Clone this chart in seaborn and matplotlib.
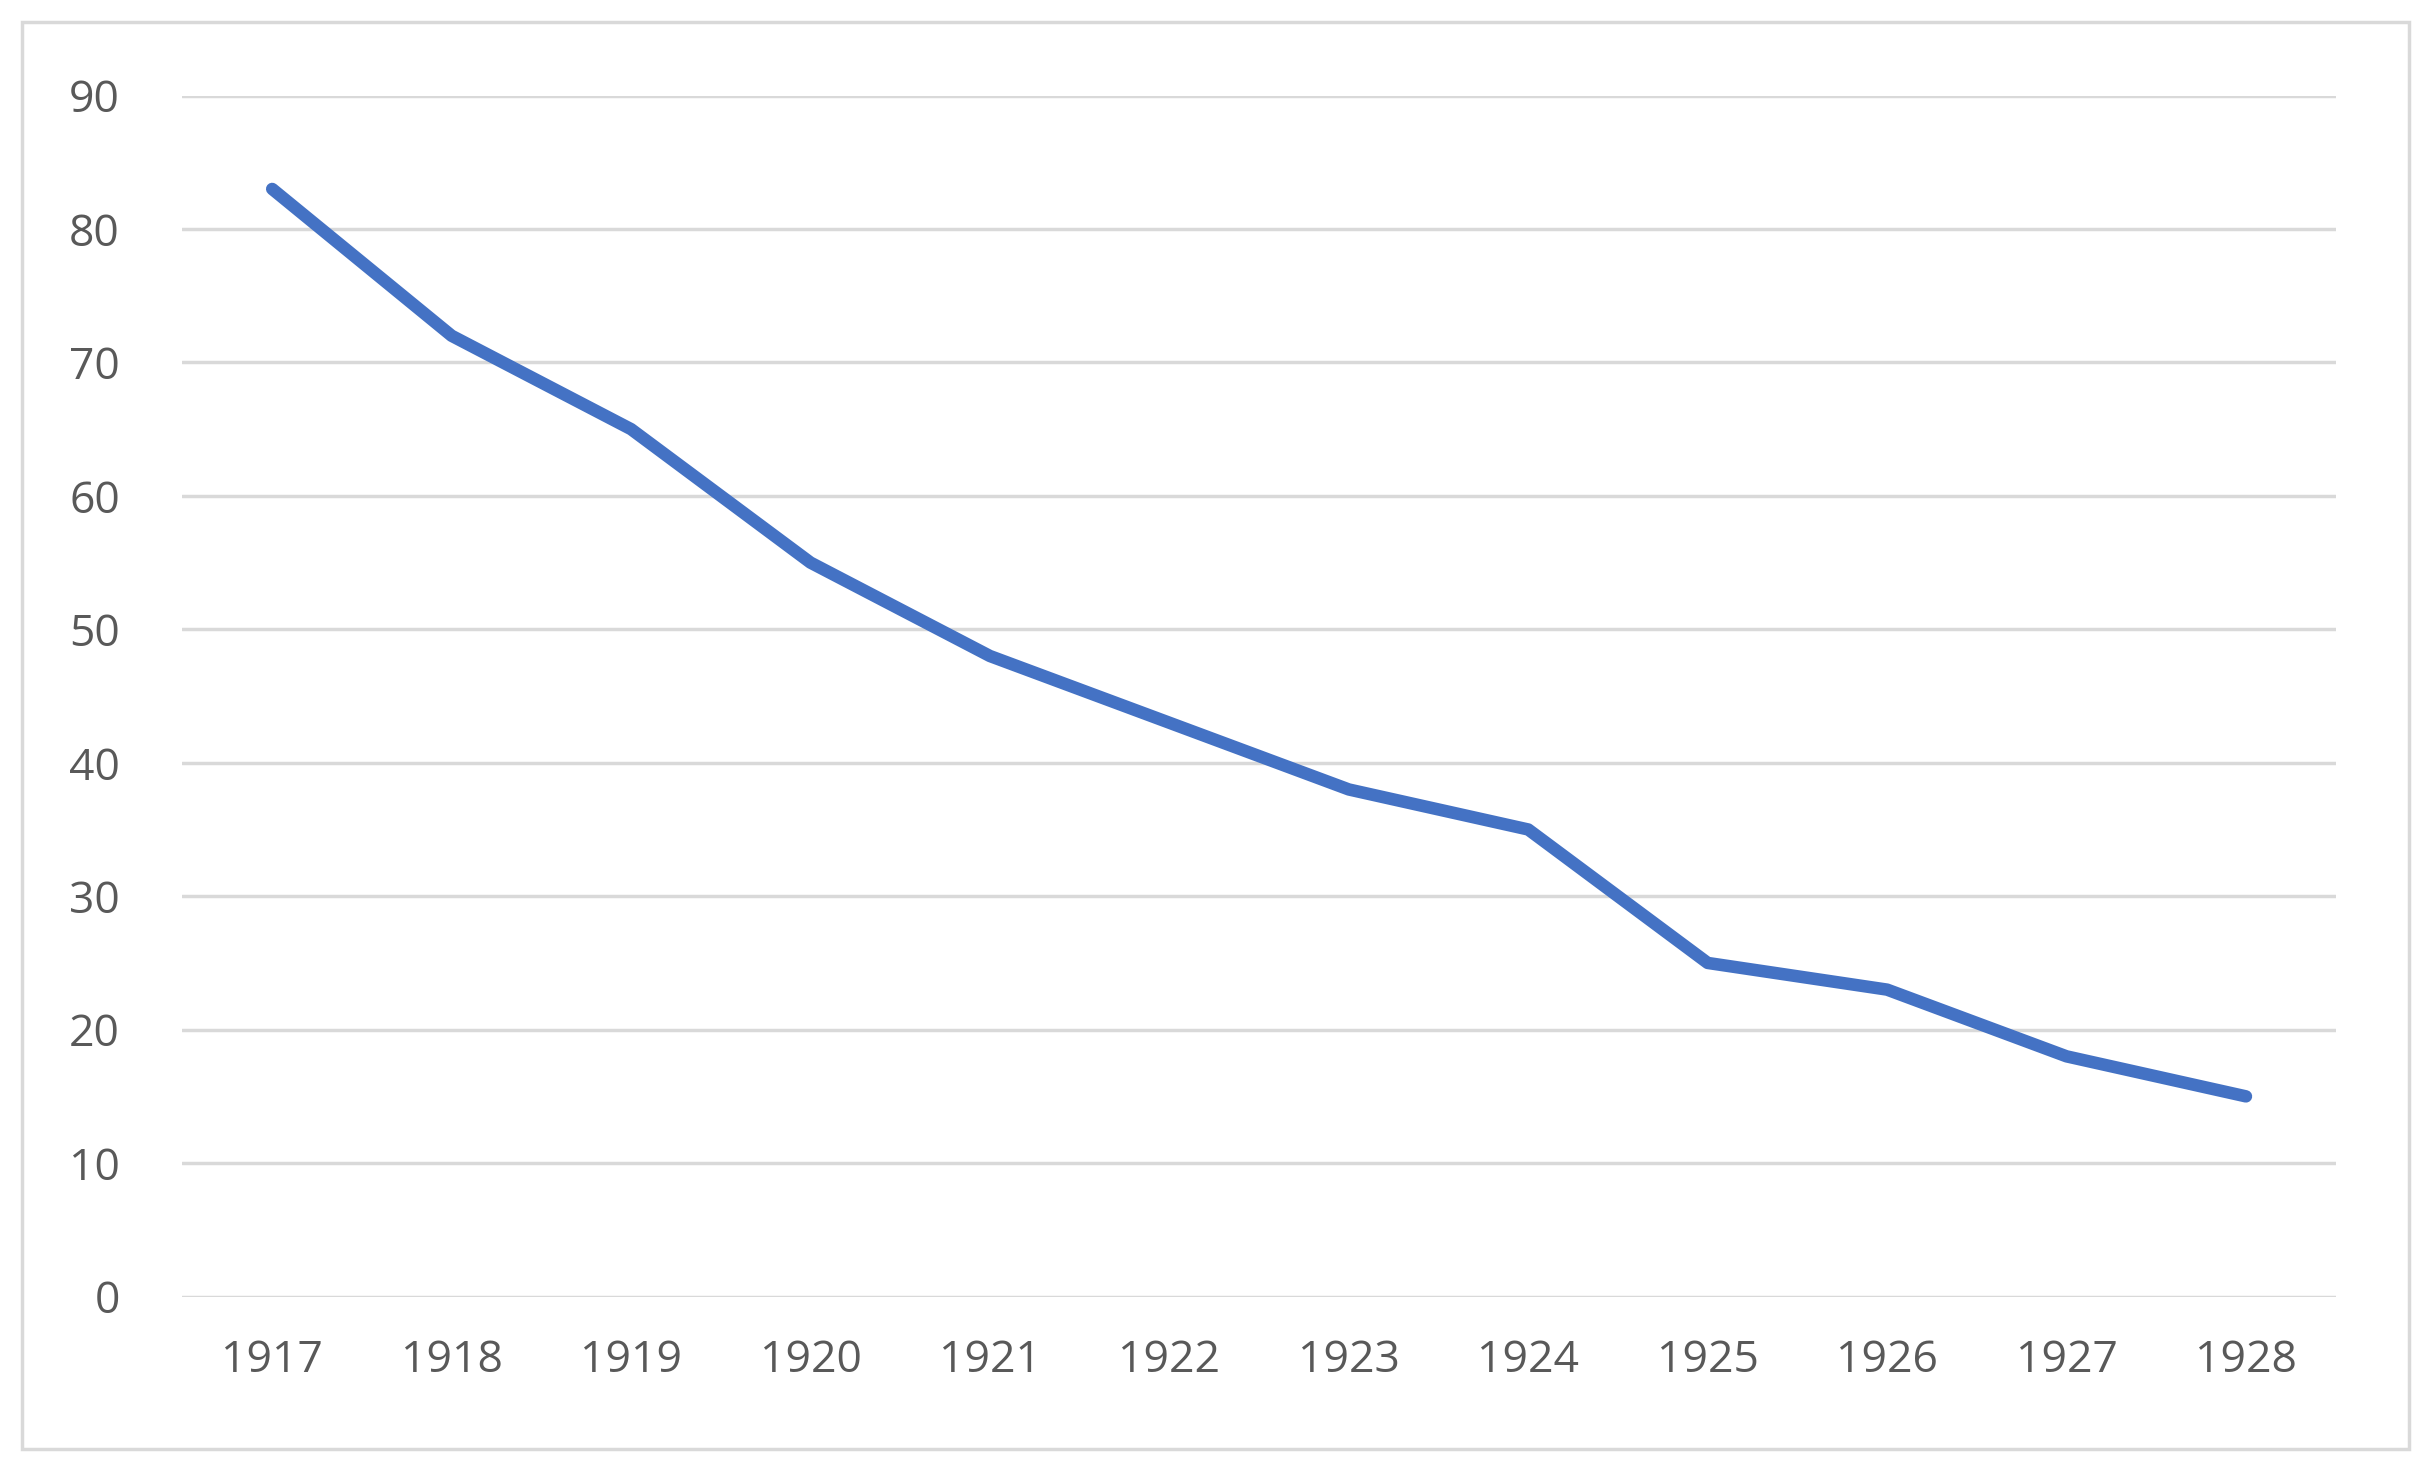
import matplotlib
matplotlib.use("Agg")
import matplotlib.pyplot as plt
import seaborn as sns
import pandas as pd
from matplotlib.patches import Rectangle

years = ["1917", "1918", "1919", "1920", "1921", "1922",
         "1923", "1924", "1925", "1926", "1927", "1928"]
values = [83, 72, 65, 55, 48, 43, 38, 35, 25, 23, 18, 15]
y_ticks = [0, 10, 20, 30, 40, 50, 60, 70, 80, 90]

sns.set_style("white")
plt.rcParams['font.family'] = ['Open Sans', 'DejaVu Sans']

df = pd.DataFrame({"year": years, "value": values})

fig = plt.figure(figsize=(24.33, 14.7), dpi=100)
ax = fig.add_axes([0.075, 0.118, 0.885, 0.817])

sns.lineplot(data=df, x="year", y="value", ax=ax, color="#4472C4",
             linewidth=9, solid_capstyle="round", sort=False)

ax.set_xlim(-0.5, len(years) - 0.5)
ax.set_ylim(0, 90)
ax.set_yticks(y_ticks)
ax.yaxis.grid(True, color="#D9D9D9", linewidth=2.5)
ax.set_axisbelow(True)
for s in ax.spines.values():
    s.set_visible(False)
ax.set_xlabel("")
ax.set_ylabel("")
ax.tick_params(axis="both", length=0, labelsize=32, labelcolor="#595959")
ax.tick_params(axis="x", pad=30)
ax.tick_params(axis="y", pad=45)

fig.patches.append(Rectangle((0.009, 0.014), 0.981, 0.971, transform=fig.transFigure,
                             fill=False, edgecolor="#D9D9D9", linewidth=2.5))

fig.savefig("out.png", dpi=100)
